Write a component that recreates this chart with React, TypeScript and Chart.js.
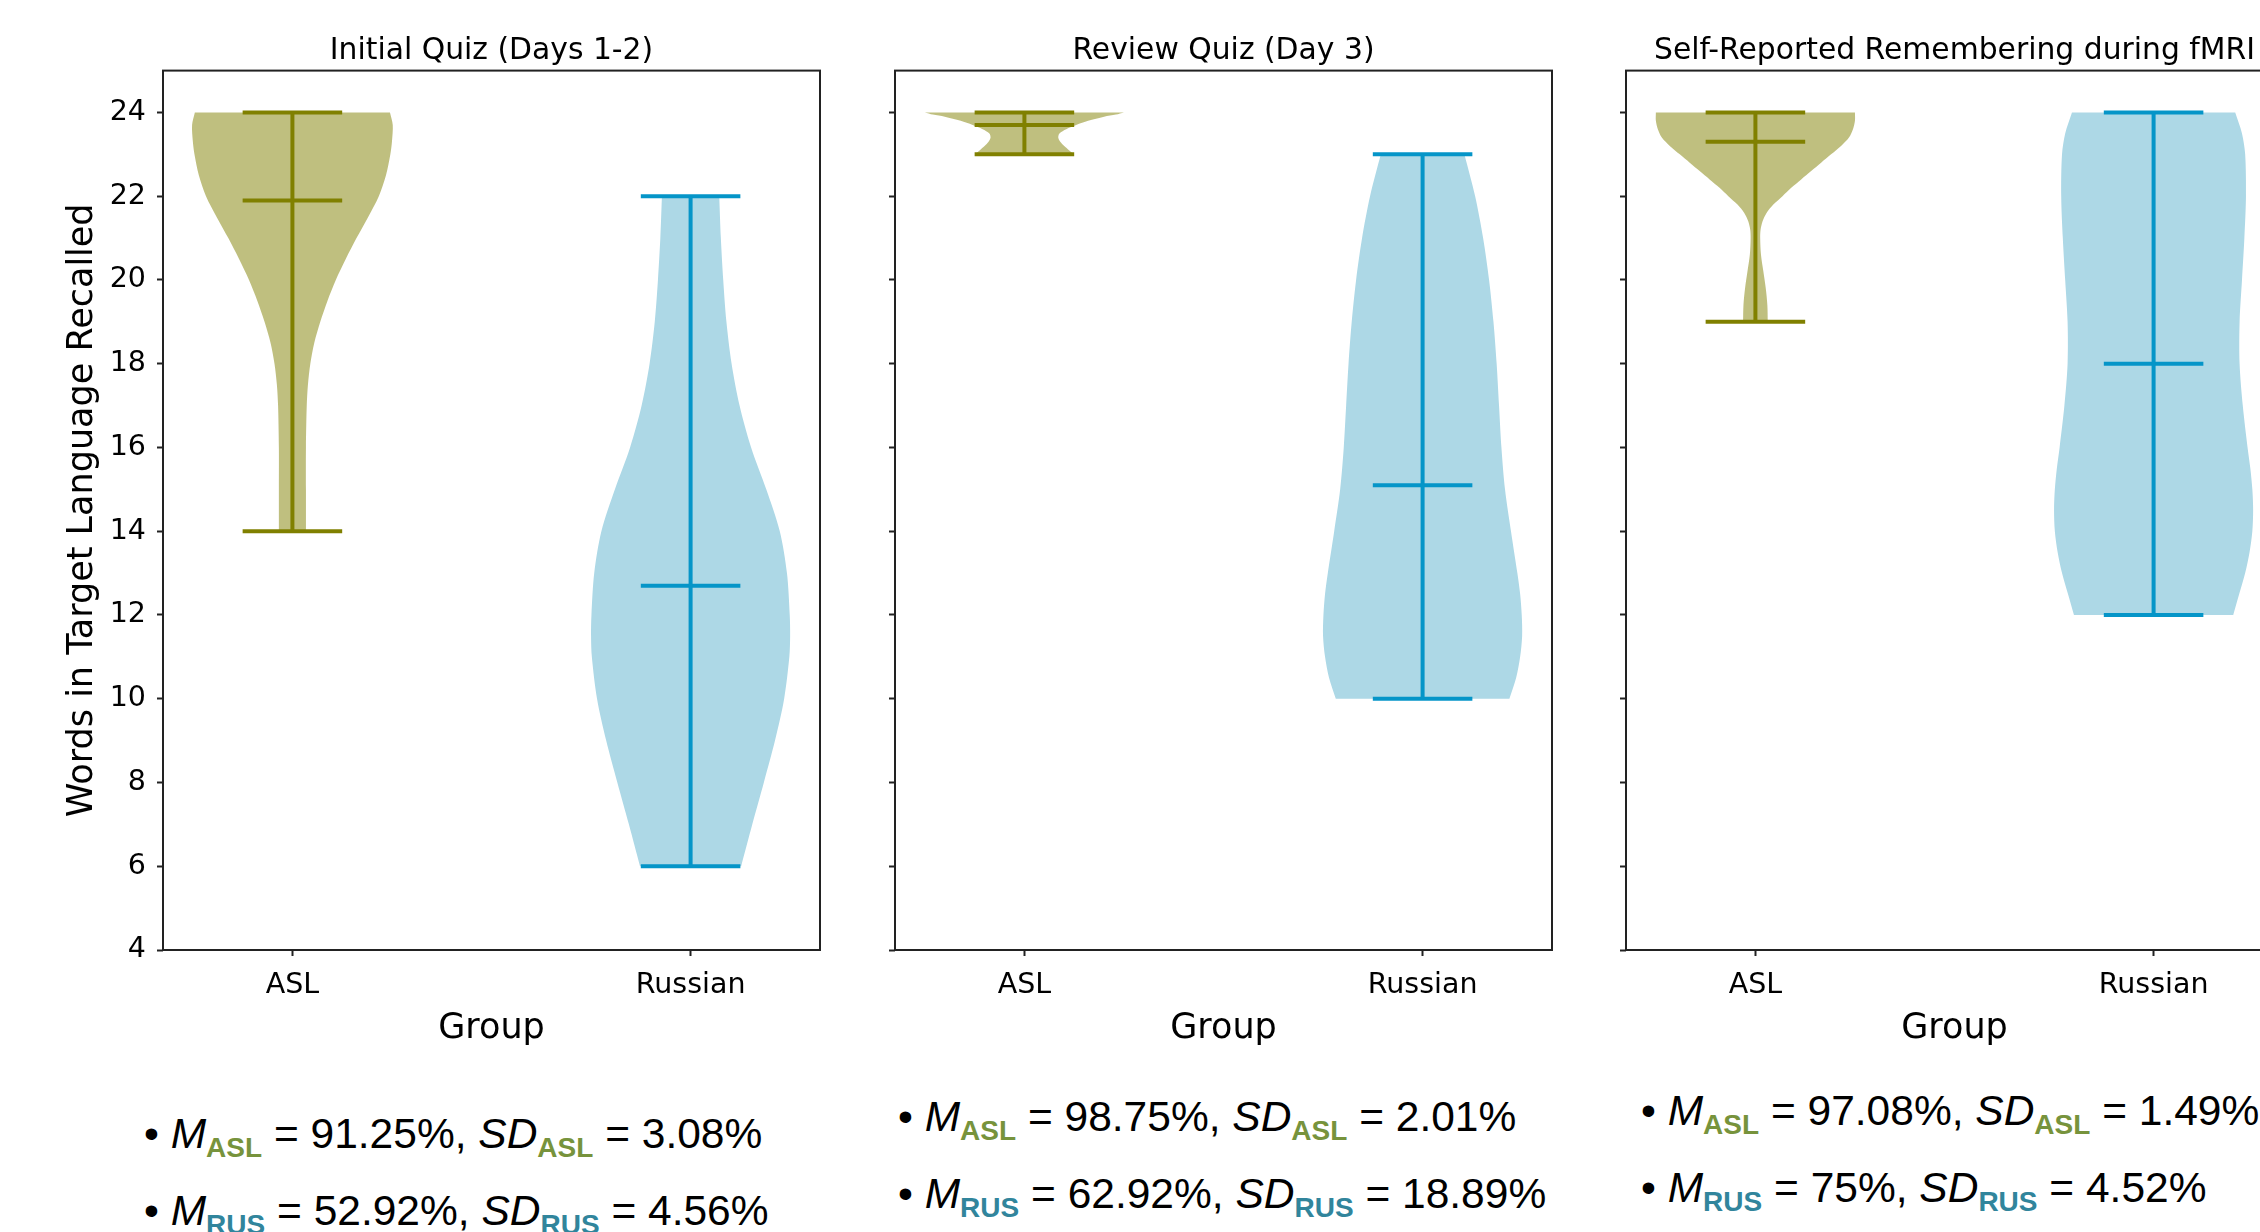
import React, { useEffect, useRef } from 'react';
import { Chart, registerables } from 'chart.js';

Chart.register(...registerables);

// ---------- data ----------
const GROUPS = ['ASL', 'Russian'];
const GROUP_POSITIONS = [1, 2];
const Y_TICKS = [4, 6, 8, 10, 12, 14, 16, 18, 20, 22, 24];
const Y_RANGE = [4, 25];
const X_RANGE = [0.675, 2.325];
const PANEL_TITLES = ['Initial Quiz (Days 1-2)', 'Review Quiz (Day 3)', 'Self-Reported Remembering during fMRI'];
const Y_LABEL = 'Words in Target Language Recalled';
const X_LABEL = 'Group';

// violin outlines: y levels (words) and half-widths (x units), stats = [min, mean, max]
const P1_ASL_Y = [14, 15, 16, 17, 17.5, 18, 18.5, 19, 19.5, 20, 20.5, 21, 21.5, 22, 22.5, 23, 23.3, 23.7, 24];
const P1_ASL_W = [0.034, 0.034, 0.034, 0.036, 0.039, 0.045, 0.055, 0.07, 0.088, 0.109, 0.134, 0.161, 0.19, 0.217, 0.235, 0.246, 0.25, 0.252, 0.245];
const P1_ASL_STATS = [14, 21.9, 24];
const P1_RUS_Y = [6, 7, 8, 9, 10, 11, 11.5, 12, 13, 14, 15, 16, 17, 18, 19, 20, 21, 22];
const P1_RUS_W = [0.127, 0.155, 0.184, 0.212, 0.235, 0.248, 0.25, 0.249, 0.242, 0.224, 0.19, 0.152, 0.123, 0.103, 0.09, 0.082, 0.076, 0.072];
const P1_RUS_STATS = [6, 12.7, 22];

const P2_ASL_Y = [23, 23.1, 23.2, 23.3, 23.4, 23.5, 23.6, 23.7, 23.8, 23.9, 23.95, 24];
const P2_ASL_W = [0.124, 0.112, 0.1, 0.09, 0.085, 0.088, 0.105, 0.13, 0.16, 0.2, 0.23, 0.25];
const P2_ASL_STATS = [23, 23.7, 24];
const P2_RUS_Y = [10, 10.5, 11, 11.5, 12, 12.5, 13, 14, 15, 16, 17, 18, 19, 20, 21, 22, 23];
const P2_RUS_W = [0.218, 0.235, 0.245, 0.25, 0.249, 0.245, 0.238, 0.222, 0.207, 0.198, 0.192, 0.186, 0.178, 0.167, 0.152, 0.132, 0.105];
const P2_RUS_STATS = [10, 15.1, 23];

const P3_ASL_Y = [19, 19.4, 19.8, 20.2, 20.6, 21, 21.2, 21.4, 21.6, 21.8, 22, 22.2, 22.4, 22.6, 22.8, 23, 23.2, 23.4, 23.6, 23.8, 24];
const P3_ASL_W = [0.031, 0.03, 0.026, 0.02, 0.014, 0.012, 0.013, 0.018, 0.028, 0.045, 0.068, 0.09, 0.115, 0.14, 0.165, 0.19, 0.215, 0.235, 0.245, 0.25, 0.25];
const P3_ASL_STATS = [19, 23.3, 24];
const P3_RUS_Y = [12, 12.5, 13, 13.5, 14, 14.5, 15, 15.5, 16, 17, 18, 19, 20, 21, 22, 23, 23.5, 24];
const P3_RUS_W = [0.2, 0.215, 0.23, 0.241, 0.248, 0.25, 0.248, 0.243, 0.236, 0.224, 0.216, 0.216, 0.222, 0.228, 0.232, 0.23, 0.222, 0.205];
const P3_RUS_STATS = [12, 18, 24];

const STAT_M_ASL = ['91.25%', '98.75%', '97.08%'];
const STAT_SD_ASL = ['3.08%', '2.01%', '1.49%'];
const STAT_M_RUS = ['52.92%', '62.92%', '75%'];
const STAT_SD_RUS = ['4.56%', '18.89%', '4.52%'];

// ---------- styles / layout ----------
const FONT = '"DejaVu Sans", Verdana, sans-serif';
const ASL_LINE = '#808000';
const ASL_FILL = 'rgba(128,128,0,0.5)';
const RUS_LINE = '#0595c8';
const RUS_FILL = '#add8e6';
const ASL_TEXT = '#77933c';
const RUS_TEXT = '#31859c';
const CAP = 0.125;
const PLOT_LEFTS = [163, 895, 1626];
const PLOT_W = 657;
const AXIS_W = 163;
const CANVAS_H = 1050;
const X_AXIS_H = 100;
const CANVAS_W = AXIS_W + PLOT_W + 10;

const framePlugin = {
  id: 'frame',
  afterDatasetsDraw(chart: any) {
    const { ctx, chartArea: a } = chart;
    ctx.save();
    ctx.strokeStyle = '#222';
    ctx.lineWidth = 2;
    ctx.strokeRect(a.left, a.top, a.right - a.left, a.bottom - a.top);
    ctx.restore();
  },
};

function outline(pos: number, ys: number[], ws: number[]) {
  const n = ys.length;
  const left = ys.map((y, i) => ({ x: pos - ws[i], y }));
  const right = ys.map((y, i) => ({ x: pos + ws[i], y })).reverse();
  // corner points repeated so the smoothed outline keeps flat ends at min / max
  return [left[0], ...left, left[n - 1], right[0], ...right, right[n - 1]];
}

function Panel({ idx }: { idx: number }) {
  const ref = useRef<HTMLCanvasElement | null>(null);
  useEffect(() => {
    const sets = [
      [[P1_ASL_Y, P1_ASL_W, P1_ASL_STATS], [P1_RUS_Y, P1_RUS_W, P1_RUS_STATS]],
      [[P2_ASL_Y, P2_ASL_W, P2_ASL_STATS], [P2_RUS_Y, P2_RUS_W, P2_RUS_STATS]],
      [[P3_ASL_Y, P3_ASL_W, P3_ASL_STATS], [P3_RUS_Y, P3_RUS_W, P3_RUS_STATS]],
    ][idx];
    const fills = [ASL_FILL, RUS_FILL];
    const lines = [ASL_LINE, RUS_LINE];
    const datasets: any[] = [];
    sets.forEach((s: any, g: number) => {
      const pos = GROUP_POSITIONS[g];
      const [ys, ws, stats] = s;
      const [mn, mean, mx] = stats;
      datasets.push({
        data: outline(pos, ys, ws),
        showLine: true,
        fill: 'shape',
        backgroundColor: fills[g],
        borderColor: 'rgba(0,0,0,0)',
        borderWidth: 0,
        tension: 0.3,
        pointRadius: 0,
        order: 10,
      });
      const seg = (pts: any[]) => ({
        data: pts,
        showLine: true,
        fill: false,
        borderColor: lines[g],
        borderWidth: 4,
        pointRadius: 0,
        tension: 0,
        order: 0,
      });
      datasets.push(seg([{ x: pos, y: mn }, { x: pos, y: mx }]));
      [mn, mean, mx].forEach((y: number) => datasets.push(seg([{ x: pos - CAP, y }, { x: pos + CAP, y }])));
    });

    const chart = new Chart(ref.current as HTMLCanvasElement, {
      type: 'scatter',
      data: { datasets },
      options: {
        animation: false,
        responsive: false,
        maintainAspectRatio: false,
        events: [],
        layout: { padding: { left: 0, right: 10, top: 0, bottom: 0 } },
        plugins: {
          legend: { display: false },
          tooltip: { enabled: false },
          title: {
            display: true,
            text: PANEL_TITLES[idx],
            color: '#000',
            font: { family: FONT, size: 29.8, weight: 'normal', lineHeight: 1.2 },
            padding: { top: 33, bottom: 1.84 },
            fullSize: false,
          },
        },
        scales: {
          x: {
            type: 'linear',
            min: X_RANGE[0],
            max: X_RANGE[1],
            afterBuildTicks: (s: any) => { s.ticks = GROUP_POSITIONS.map((v) => ({ value: v })); },
            afterFit: (s: any) => { s.height = X_AXIS_H; },
            ticks: {
              autoSkip: false,
              maxRotation: 0,
              padding: 12,
              color: '#000',
              font: { family: FONT, size: 28.5 },
              callback: (v: any) => GROUPS[GROUP_POSITIONS.indexOf(Number(v))] ?? '',
            },
            grid: { drawOnChartArea: false, drawTicks: true, tickLength: 6, tickWidth: 2, color: '#222' },
            border: { display: false },
            title: { display: true, text: X_LABEL, color: '#000', font: { family: FONT, size: 35 }, padding: { top: 0, bottom: 0 } },
          },
          y: {
            type: 'linear',
            min: Y_RANGE[0],
            max: Y_RANGE[1],
            afterBuildTicks: (s: any) => { s.ticks = Y_TICKS.map((v) => ({ value: v })); },
            afterFit: (s: any) => { s.width = AXIS_W; },
            ticks: {
              display: idx === 0,
              autoSkip: false,
              padding: 11,
              color: '#000',
              font: { family: FONT, size: 28.5 },
              callback: (v: any) => String(v),
            },
            grid: { drawOnChartArea: false, drawTicks: true, tickLength: 6, tickWidth: 2, color: '#222' },
            border: { display: false },
            title: {
              display: idx === 0,
              text: Y_LABEL,
              color: '#000',
              font: { family: FONT, size: 35 },
              padding: { top: 62, bottom: 0 },
            },
          },
        },
      } as any,
      plugins: [framePlugin],
    });
    return () => chart.destroy();
  }, [idx]);

  return (
    <canvas
      ref={ref}
      width={CANVAS_W}
      height={CANVAS_H}
      style={{ position: 'absolute', left: PLOT_LEFTS[idx] - AXIS_W, top: 0, width: CANVAS_W, height: CANVAS_H }}
    />
  );
}

const STAT_F = 42.5;
function StatLine({ left, baseline, label, color, m, sd }: any) {
  const sub: React.CSSProperties = { fontSize: 28, fontWeight: 'bold', color, position: 'relative', top: 9, fontStyle: 'normal' };
  return (
    <div
      style={{
        position: 'absolute',
        left,
        top: baseline - 0.8465 * STAT_F,
        fontFamily: '"Liberation Sans", Arial, sans-serif',
        fontSize: STAT_F,
        lineHeight: 1,
        whiteSpace: 'nowrap',
        color: '#000',
      }}
    >
      {'\u2022 '}
      <i>M</i>
      <span style={sub}>{label}</span>
      {` = ${m}, `}
      <i>SD</i>
      <span style={sub}>{label}</span>
      {` = ${sd}`}
    </div>
  );
}

const STAT_LEFTS = [144, 898, 1641];
const STAT_BASE1 = [1149, 1132, 1126];
const STAT_BASE2 = [1226, 1209, 1203];

export default function App() {
  return (
    <div style={{ position: 'fixed', left: 0, top: 0, width: 2260, height: 1232, overflow: 'hidden', background: '#fff' }}>
      {[0, 1, 2].map((i) => (
        <Panel key={'p' + i} idx={i} />
      ))}
      {[0, 1, 2].map((i) => (
        <React.Fragment key={'s' + i}>
          <StatLine left={STAT_LEFTS[i]} baseline={STAT_BASE1[i]} label="ASL" color={ASL_TEXT} m={STAT_M_ASL[i]} sd={STAT_SD_ASL[i]} />
          <StatLine left={STAT_LEFTS[i]} baseline={STAT_BASE2[i]} label="RUS" color={RUS_TEXT} m={STAT_M_RUS[i]} sd={STAT_SD_RUS[i]} />
        </React.Fragment>
      ))}
    </div>
  );
}
